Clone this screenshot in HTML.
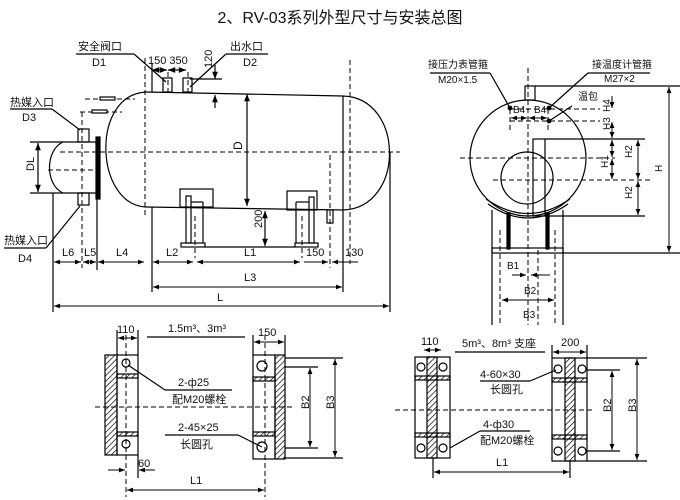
<!DOCTYPE html>
<html><head><meta charset="utf-8"><style>
html,body{margin:0;padding:0;background:#fff}
svg{display:block}
text{font-family:"Liberation Sans","Noto Sans CJK SC",sans-serif;fill:#111}
</style></head><body>
<svg width="680" height="500" viewBox="0 0 680 500" xmlns="http://www.w3.org/2000/svg">
<defs>
<marker id="a" viewBox="0 0 10 10" refX="10" refY="5" markerWidth="7" markerHeight="6" orient="auto-start-reverse"><path d="M0,1 L10,5 L0,9 z" fill="#000"/></marker>
<pattern id="h" width="4" height="4" patternUnits="userSpaceOnUse" patternTransform="rotate(45)"><line x1="0" y1="0" x2="0" y2="4" stroke="#000" stroke-width="1.4"/></pattern>
</defs>
<g stroke="#000" fill="none" stroke-width="1.2">
<text x="340" y="23" font-size="16" text-anchor="middle" stroke="none">2、RV-03系列外型尺寸与安装总图</text>

<!-- main tank -->
<path d="M146,92 L343,96 M146,207 L343,210 M343,96 L343,210"/>
<path d="M146,92 C90,95 95,205 146,207"/>
<path d="M343,96 C405,98 405,208 343,210"/>
<g stroke-dasharray="5,3" stroke-width="1">
<line x1="145" y1="58" x2="145" y2="216"/>
<line x1="60" y1="152" x2="400" y2="152"/>
<line x1="48" y1="170" x2="100" y2="170"/>
<line x1="82" y1="112" x2="82" y2="268"/>
<line x1="330" y1="155" x2="330" y2="268"/>
<line x1="350" y1="60" x2="350" y2="264"/>
<line x1="85" y1="99" x2="135" y2="99"/>
<line x1="80" y1="112" x2="122" y2="112"/>
<line x1="168" y1="72" x2="168" y2="96"/>
<line x1="188" y1="72" x2="188" y2="96"/>
<line x1="195" y1="216" x2="195" y2="258"/>
<line x1="302" y1="216" x2="302" y2="258"/>
</g>
<rect x="100" y="97" width="15" height="3" fill="#fff"/>
<rect x="92" y="110" width="15" height="3" fill="#fff"/>
<!-- small head -->
<path d="M63,142 L97,142 M63,193 L97,193 M63,142 C45,150 45,185 63,193"/>
<rect x="96" y="137" width="4" height="62" fill="#000"/>
<rect x="78" y="129" width="11" height="13"/>
<rect x="78" y="193" width="11" height="12"/>
<line x1="38" y1="143" x2="38" y2="192" marker-start="url(#a)" marker-end="url(#a)"/>
<line x1="30" y1="142" x2="63" y2="142"/><line x1="30" y1="193" x2="63" y2="193"/>
<text x="27" y="172" font-size="11" stroke="none" transform="rotate(-90 30 168)">DL</text>
<!-- top nozzles -->
<rect x="163" y="78" width="9" height="14"/>
<rect x="183" y="78" width="9" height="14"/>
<line x1="152" y1="70" x2="167" y2="70" marker-start="url(#a)" marker-end="url(#a)"/>
<line x1="168" y1="70" x2="186" y2="70" marker-start="url(#a)" marker-end="url(#a)"/>
<line x1="152" y1="63" x2="152" y2="92"/>
<line x1="190" y1="79" x2="222" y2="79"/>
<line x1="215" y1="65" x2="215" y2="79" marker-end="url(#a)"/>
<line x1="215" y1="108" x2="215" y2="95" marker-end="url(#a)"/>
<text x="148" y="64" font-size="11" stroke="none">150 350</text>
<text x="208" y="72" font-size="11" stroke="none" transform="rotate(-90 208 68)">120</text>
<!-- D dim -->
<line x1="247" y1="94" x2="247" y2="206" marker-start="url(#a)" marker-end="url(#a)"/>
<text x="236" y="148" font-size="12" stroke="none" transform="rotate(-90 240 146)">D</text>
<!-- supports -->
<rect x="180" y="189" width="33" height="18"/>
<rect x="186" y="196" width="5" height="47"/><line x1="191" y1="202" x2="203" y2="202"/><line x1="203" y1="202" x2="203" y2="243"/>
<rect x="181" y="243" width="24" height="4"/>
<rect x="287" y="191" width="30" height="19"/>
<rect x="309" y="197" width="5" height="46"/><line x1="296" y1="202" x2="309" y2="202"/><line x1="296" y1="202" x2="296" y2="243"/>
<rect x="295" y="243" width="23" height="4"/>
<line x1="205" y1="247" x2="295" y2="247"/>
<line x1="265" y1="211" x2="265" y2="246" marker-start="url(#a)" marker-end="url(#a)"/>
<text x="258" y="232" font-size="11" stroke="none" transform="rotate(-90 258 228)">200</text>
<rect x="327" y="210" width="6" height="13"/>
<!-- bottom dims -->
<line x1="53" y1="193" x2="53" y2="312"/><line x1="390" y1="152" x2="390" y2="312"/>
<line x1="152" y1="207" x2="152" y2="292"/><line x1="343" y1="210" x2="343" y2="292"/>
<line x1="97" y1="199" x2="97" y2="270"/>
<g stroke-width="1">
<line x1="54" y1="262" x2="81" y2="262" marker-start="url(#a)" marker-end="url(#a)"/>
<line x1="83" y1="262" x2="96" y2="262" marker-start="url(#a)" marker-end="url(#a)"/>
<line x1="98" y1="262" x2="144" y2="262" marker-start="url(#a)" marker-end="url(#a)"/>
<line x1="153" y1="262" x2="193" y2="262" marker-start="url(#a)" marker-end="url(#a)"/>
<line x1="197" y1="262" x2="300" y2="262" marker-start="url(#a)" marker-end="url(#a)"/>
<line x1="304" y1="262" x2="328" y2="262" marker-end="url(#a)"/>
<line x1="358" y1="262" x2="332" y2="262" marker-end="url(#a)"/>
<line x1="153" y1="287" x2="342" y2="287" marker-start="url(#a)" marker-end="url(#a)"/>
<line x1="54" y1="306" x2="389" y2="306" marker-start="url(#a)" marker-end="url(#a)"/>
</g>
<g font-size="11" stroke="none">
<text x="62" y="256">L6</text><text x="84" y="256">L5</text><text x="116" y="256">L4</text>
<text x="166" y="256">L2</text><text x="244" y="256">L1</text><text x="306" y="256">150</text><text x="345" y="256">130</text>
<text x="244" y="281">L3</text><text x="217" y="301">L</text>
</g>
<!-- labels -->
<g font-size="11" stroke="none">
<text x="78" y="50">安全阀口</text><text x="92" y="66">D1</text>
<text x="230" y="50">出水口</text><text x="243" y="66">D2</text>
<text x="10" y="106">热媒入口</text><text x="22" y="121">D3</text>
<text x="4" y="244">热媒入口</text><text x="18" y="262">D4</text>
</g>
<line x1="76" y1="54" x2="134" y2="54"/><line x1="134" y1="54" x2="166" y2="82"/>
<line x1="226" y1="54" x2="268" y2="54"/><line x1="226" y1="54" x2="190" y2="87"/>
<line x1="10" y1="109" x2="52" y2="109"/><line x1="52" y1="109" x2="80" y2="130"/>
<line x1="4" y1="248" x2="46" y2="248"/><line x1="46" y1="248" x2="80" y2="206"/>

<!-- right view -->
<circle cx="528" cy="158" r="58"/>
<circle cx="527" cy="178" r="26"/>
<rect x="525" y="86" width="10" height="14"/>
<path d="M486,199 Q528,228 570,199 M488,204 Q528,232 568,204"/>
<line x1="492" y1="210" x2="492" y2="325"/><line x1="563" y1="210" x2="563" y2="325"/>
<rect x="507" y="213" width="3" height="36" fill="#000"/><rect x="546" y="213" width="3" height="36" fill="#000"/>
<rect x="492" y="248" width="71" height="5"/>
<rect x="533" y="139" width="12" height="77"/>
<line x1="535" y1="86" x2="680" y2="86"/>
<line x1="545" y1="139" x2="645" y2="139"/>
<line x1="545" y1="216" x2="645" y2="216"/>
<line x1="563" y1="253" x2="680" y2="253"/>
<g stroke-dasharray="5,3" stroke-width="1">
<line x1="528" y1="68" x2="528" y2="325"/>
<line x1="500" y1="230" x2="500" y2="325"/><line x1="555" y1="230" x2="555" y2="325"/>
<line x1="538" y1="250" x2="538" y2="325"/>
<line x1="510" y1="109" x2="600" y2="109"/><line x1="510" y1="121" x2="600" y2="121"/>
<line x1="510" y1="109" x2="510" y2="132"/><line x1="548" y1="109" x2="548" y2="132"/>
<line x1="460" y1="158" x2="615" y2="158"/>
<line x1="493" y1="180" x2="650" y2="180"/>
</g>
<g stroke-width="1">
<line x1="612" y1="96" x2="612" y2="108" marker-end="url(#a)"/>
<line x1="612" y1="122" x2="612" y2="138" marker-start="url(#a)" marker-end="url(#a)"/>
<line x1="612" y1="140" x2="612" y2="157" marker-start="url(#a)" marker-end="url(#a)"/>
<line x1="612" y1="159" x2="612" y2="179" marker-start="url(#a)" marker-end="url(#a)"/>
<line x1="638" y1="140" x2="638" y2="179" marker-start="url(#a)" marker-end="url(#a)"/>
<line x1="638" y1="181" x2="638" y2="215" marker-start="url(#a)" marker-end="url(#a)"/>
<line x1="669" y1="87" x2="669" y2="252" marker-start="url(#a)" marker-end="url(#a)"/>
<line x1="511" y1="118" x2="527" y2="118" marker-start="url(#a)" marker-end="url(#a)"/>
<line x1="529" y1="118" x2="547" y2="118" marker-start="url(#a)" marker-end="url(#a)"/>
<line x1="512" y1="275" x2="526" y2="275" marker-end="url(#a)"/>
<line x1="550" y1="275" x2="531" y2="275" marker-end="url(#a)"/>
<line x1="502" y1="300" x2="554" y2="300" marker-start="url(#a)" marker-end="url(#a)"/>
</g>
<g font-size="10" stroke="none">
<text x="608" y="118" transform="rotate(-90 606 114)">H4</text>
<text x="608" y="136" transform="rotate(-90 606 132)">H3</text>
<text x="604" y="172" transform="rotate(-90 604 168)">H1</text>
<text x="628" y="162" transform="rotate(-90 628 158)">H2</text>
<text x="628" y="203" transform="rotate(-90 628 199)">H2</text>
<text x="658" y="176" transform="rotate(-90 658 172)">H</text>
<text x="513" y="113">B4</text><text x="534" y="113">B4</text>
<text x="507" y="269">B1</text><text x="524" y="294">B2</text><text x="523" y="318">B3</text>
<text x="428" y="68">接压力表管箍</text><text x="438" y="83">M20×1.5</text>
<text x="592" y="68">接温度计管箍</text><text x="604" y="82">M27×2</text>
<text x="578" y="100">温包</text>
</g>
<line x1="430" y1="73" x2="490" y2="73"/><line x1="490" y1="73" x2="510" y2="108"/>
<line x1="588" y1="73" x2="650" y2="73"/><line x1="588" y1="73" x2="549" y2="108"/>
<line x1="572" y1="106" x2="549" y2="121"/>
<circle cx="510" cy="108" r="1.8" fill="#000"/><circle cx="549" cy="108" r="1.8" fill="#000"/><circle cx="549" cy="121" r="1.8" fill="#000"/>

<!-- bottom-left plan -->
<rect x="105" y="355" width="12" height="100" fill="url(#h)"/>
<rect x="117" y="355" width="21" height="100"/>
<rect x="117" y="374" width="21" height="4" fill="url(#h)"/><rect x="117" y="432" width="21" height="4" fill="url(#h)"/>
<circle cx="126" cy="363" r="4"/><circle cx="126" cy="444" r="4"/>
<rect x="253" y="355" width="22" height="104"/>
<rect x="275" y="355" width="10" height="104" fill="url(#h)"/>
<rect x="253" y="377" width="22" height="4" fill="url(#h)"/><rect x="253" y="432" width="22" height="4" fill="url(#h)"/>
<circle cx="262" cy="366" r="5"/><circle cx="262" cy="447" r="5"/>
<line x1="285" y1="358" x2="343" y2="358"/><line x1="285" y1="458" x2="343" y2="458"/>
<line x1="285" y1="367" x2="318" y2="367"/><line x1="285" y1="448" x2="318" y2="448"/>
<g stroke-dasharray="5,3" stroke-width="1">
<line x1="126" y1="335" x2="126" y2="497"/><line x1="265" y1="335" x2="265" y2="497"/>
<line x1="95" y1="407" x2="292" y2="407"/>
</g>
<g stroke-width="1">
<line x1="310" y1="368" x2="310" y2="447" marker-start="url(#a)" marker-end="url(#a)"/>
<line x1="335" y1="359" x2="335" y2="457" marker-start="url(#a)" marker-end="url(#a)"/>
<line x1="118" y1="338" x2="137" y2="338" marker-start="url(#a)" marker-end="url(#a)"/>
<line x1="254" y1="342" x2="284" y2="342" marker-start="url(#a)" marker-end="url(#a)"/>
<line x1="108" y1="470" x2="125" y2="470" marker-end="url(#a)"/>
<line x1="155" y1="470" x2="139" y2="470" marker-end="url(#a)"/>
<line x1="127" y1="490" x2="264" y2="490" marker-start="url(#a)" marker-end="url(#a)"/>
</g>
<line x1="117" y1="330" x2="117" y2="355"/><line x1="138" y1="330" x2="138" y2="355"/><line x1="138" y1="455" x2="138" y2="478"/>
<line x1="253" y1="335" x2="253" y2="355"/><line x1="285" y1="335" x2="285" y2="355"/>
<line x1="147" y1="337" x2="245" y2="337"/>
<line x1="165" y1="390" x2="232" y2="390"/><line x1="165" y1="390" x2="128" y2="365"/>
<line x1="165" y1="435" x2="238" y2="435"/><line x1="238" y1="435" x2="262" y2="447"/>
<g font-size="11" stroke="none">
<text x="117" y="333">110</text><text x="258" y="336">150</text>
<text x="168" y="332">1.5m³、3m³</text>
<text x="178" y="386">2-ф25</text><text x="172" y="403">配M20螺栓</text>
<text x="178" y="431">2-45×25</text><text x="180" y="448">长圆孔</text>
<text x="138" y="467">60</text><text x="190" y="484">L1</text>
<text x="303" y="411" transform="rotate(-90 305 407)">B2</text>
<text x="328" y="411" transform="rotate(-90 330 407)">B3</text>
</g>

<!-- bottom-right plan -->
<rect x="415" y="357" width="35" height="101"/>
<rect x="427" y="357" width="10" height="101" fill="url(#h)"/>
<rect x="415" y="376" width="35" height="4" fill="url(#h)"/><rect x="415" y="433" width="35" height="4" fill="url(#h)"/>
<circle cx="421" cy="367" r="4"/><circle cx="443" cy="367" r="4"/><circle cx="421" cy="448" r="4"/><circle cx="443" cy="448" r="4"/>
<rect x="552" y="358" width="35" height="103"/>
<rect x="565" y="358" width="10" height="103" fill="url(#h)"/>
<rect x="552" y="378" width="35" height="4" fill="url(#h)"/><rect x="552" y="435" width="35" height="4" fill="url(#h)"/>
<circle cx="558" cy="369" r="4"/><circle cx="582" cy="369" r="4"/><circle cx="558" cy="451" r="4"/><circle cx="582" cy="451" r="4"/>
<line x1="587" y1="358" x2="647" y2="358"/><line x1="587" y1="461" x2="647" y2="461"/>
<line x1="587" y1="370" x2="620" y2="370"/><line x1="587" y1="451" x2="620" y2="451"/>
<line stroke-dasharray="5,3" stroke-width="1" x1="395" y1="410" x2="592" y2="410"/>
<g stroke-width="1">
<line x1="612" y1="371" x2="612" y2="450" marker-start="url(#a)" marker-end="url(#a)"/>
<line x1="637" y1="359" x2="637" y2="460" marker-start="url(#a)" marker-end="url(#a)"/>
<line x1="424" y1="350" x2="441" y2="350" marker-start="url(#a)" marker-end="url(#a)"/>
<line x1="553" y1="352" x2="586" y2="352" marker-start="url(#a)" marker-end="url(#a)"/>
<line x1="434" y1="472" x2="569" y2="472" marker-start="url(#a)" marker-end="url(#a)"/>
</g>
<line x1="433" y1="458" x2="433" y2="478"/><line x1="570" y1="461" x2="570" y2="478"/>
<line x1="552" y1="345" x2="552" y2="358"/><line x1="587" y1="345" x2="587" y2="358"/>
<line x1="455" y1="352" x2="545" y2="352"/>
<line x1="480" y1="381" x2="530" y2="381"/><line x1="530" y1="381" x2="556" y2="370"/>
<line x1="480" y1="431" x2="530" y2="431"/><line x1="480" y1="431" x2="450" y2="448"/>
<g font-size="11" stroke="none">
<text x="421" y="345">110</text><text x="561" y="346">200</text>
<text x="462" y="347">5m³、8m³ 支座</text>
<text x="480" y="378">4-60×30</text><text x="490" y="393">长圆孔</text>
<text x="483" y="428">4-ф30</text><text x="480" y="444">配M20螺栓</text>
<text x="496" y="466">L1</text>
<text x="605" y="414" transform="rotate(-90 607 410)">B2</text>
<text x="630" y="414" transform="rotate(-90 632 410)">B3</text>
</g>
</g>
</svg>
</body></html>
